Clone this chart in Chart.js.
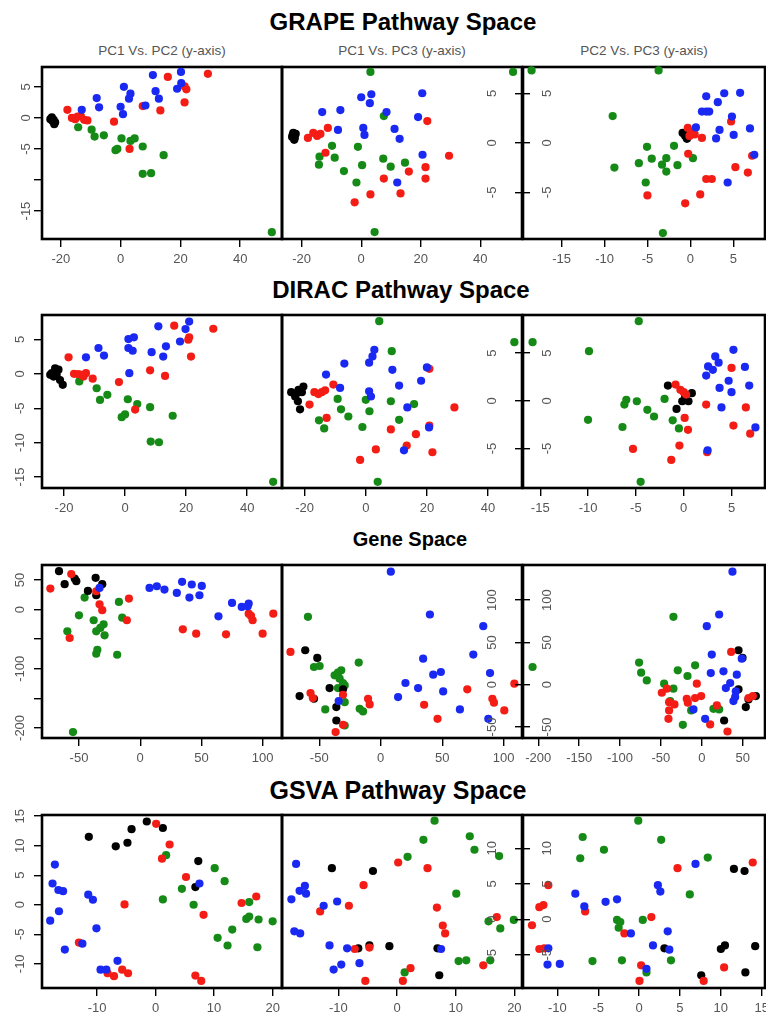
<!DOCTYPE html>
<html>
<head>
<meta charset="utf-8">
<script src="https://cdn.jsdelivr.net/npm/chart.js@4/dist/chart.umd.min.js"></script>
<style>
  body { margin: 0; background: #fff; width: 766px; height: 1017px; overflow: hidden; position: relative;
         font-family: "Liberation Sans", Arial, sans-serif; }
  canvas { position: absolute; }
  .title { position: absolute; transform: translateX(-50%); white-space: nowrap; font-weight: bold; font-size: 24px; color: #000; }
  .sub { position: absolute; transform: translateX(-50%); white-space: nowrap; font-size: 13.5px; color: #555; }
</style>
</head>
<body>
<div class="title" style="left:403px;top:8px">GRAPE Pathway Space</div>
<div class="title" style="left:401px;top:276px">DIRAC Pathway Space</div>
<div class="title" style="left:410px;top:528px;font-size:20px">Gene Space</div>
<div class="title" style="left:398px;top:776px;font-size:25px">GSVA Pathway Space</div>
<div class="sub" style="left:162px;top:43px">PC1 Vs. PC2 (y-axis)</div>
<div class="sub" style="left:402px;top:43px">PC1 Vs. PC3 (y-axis)</div>
<div class="sub" style="left:644px;top:43px">PC2 Vs. PC3 (y-axis)</div>

<script>
// points: [x, y, group]   k = black, r = red, b = blue, g = green

// ---- GRAPE pathway space ----
const grapePC1PC2 = [
  [-23.5,-0.2,'k'],[-22.8,-0.5,'k'],[-22.2,-1.0,'k'],[-23.0,0.1,'k'],[-22.4,-0.3,'k'],[-21.9,-0.7,'k'],
  [-17.8,1.3,'r'],[-16.3,0,'r'],[-14.4,0.2,'r'],[-13.3,0.3,'r'],[-15.2,-0.2,'r'],[-12.2,-0.3,'r'],[-11.1,-0.4,'r'],[-2.2,-0.6,'r'],
  [7.4,1.9,'r'],[13.3,1.2,'r'],[3.0,-5.0,'r'],[15.8,6.6,'r'],[29.2,7.1,'r'],[21.4,5.1,'r'],[22.0,4.6,'r'],[21.4,2.5,'r'],
  [-13.0,1.3,'b'],[-8.0,3.2,'b'],[-7.2,1.7,'b'],[1.1,5.0,'b'],[3.3,3.9,'b'],[2.8,3.1,'b'],[0,1.8,'b'],[0.8,0.6,'b'],
  [8.3,2.0,'b'],[10.8,6.9,'b'],[11.7,4.3,'b'],[12.8,3.1,'b'],[20.2,7.4,'b'],[18.9,4.7,'b'],[20.3,5.6,'b'],
  [-14.2,-1.5,'g'],[-9.7,-1.9,'g'],[-8.7,-3.0,'g'],[-5.6,-2.8,'g'],[-1.7,-5.2,'g'],[-1.1,-5.0,'g'],[0.3,-3.3,'g'],[3.3,-3.7,'g'],
  [4.7,-3.3,'g'],[7.4,-4.6,'g'],[14.4,-6.0,'g'],[7.4,-9.0,'g'],[10.2,-8.9,'g'],[50.6,-18.4,'g']
];
const grapePC1PC3 = [
  [-23,0.8,'k'],[-22.3,0.5,'k'],[-22.8,1.0,'k'],[-22,0.9,'k'],[-23.2,0.6,'k'],[-22.5,0.3,'k'],
  [-17.9,0.5,'r'],[-16.1,1.0,'r'],[-14.8,0.7,'r'],[-13.7,0.9,'r'],[-11.2,1.5,'r'],[-12.0,-1.0,'r'],[-2.2,-6.0,'r'],[3.1,-5.2,'r'],
  [7.6,-3.6,'r'],[13.2,-5.1,'r'],[16.0,-2.9,'r'],[21.6,-2.45,'r'],[21.6,-3.6,'r'],[22.2,2.2,'r'],[29.5,-1.3,'r'],
  [-13.1,3.1,'b'],[-7.0,3.3,'b'],[-7.8,1.3,'b'],[0,4.6,'b'],[3.4,4.9,'b'],[2.9,4.0,'b'],[0.7,1.5,'b'],[1.1,0.8,'b'],
  [8.5,3.1,'b'],[11.2,1.4,'b'],[12.9,0.4,'b'],[12.1,-4.0,'b'],[20.5,5.0,'b'],[19.1,2.6,'b'],[20.6,-1.2,'b'],
  [3.1,7.15,'g'],[51,7.15,'g'],[-9.8,-0.3,'g'],[-14.0,-1.4,'g'],[-14.2,-2.2,'g'],[-8.9,-1.5,'g'],[-5.8,-2.85,'g'],[-1.1,-0.4,'g'],
  [0.3,-2.25,'g'],[-1.6,-4.0,'g'],[7.6,2.7,'g'],[7.4,-1.6,'g'],[9.9,-2.4,'g'],[14.7,-2.0,'g'],[4.5,-9.0,'g']
];
const grapePC2PC3 = [
  [-18.5,7.3,'g'],[-3.7,7.3,'g'],[-9.05,2.7,'g'],[-8.85,-2.5,'g'],[-5.05,-0.4,'g'],[-6.0,-2.05,'g'],[-4.5,-1.6,'g'],[-2.8,-1.55,'g'],
  [-3.3,-2.2,'g'],[-2.8,-2.9,'g'],[-1.9,-0.3,'g'],[-1.5,-2.25,'g'],[-5.2,-4.0,'g'],[0.3,-1.55,'g'],[-3.2,-9.1,'g'],
  [-0.9,1.0,'k'],[-0.6,0.7,'k'],[-0.4,0.4,'k'],[-0.7,0.9,'k'],[-0.3,0.6,'k'],
  [-0.3,1.5,'r'],[0.1,1.1,'r'],[0.5,0.85,'r'],[-0.1,0.7,'r'],[1.35,0.5,'r'],[-0.25,-1.1,'r'],[-5.0,-5.3,'r'],[-0.6,-6.1,'r'],
  [1.15,-5.2,'r'],[1.85,-3.65,'r'],[2.5,-3.65,'r'],[4.75,2.15,'r'],[5.25,-2.45,'r'],[6.7,-3.0,'r'],[7.2,-1.3,'r'],
  [0.65,1.55,'b'],[1.85,4.7,'b'],[1.35,3.15,'b'],[1.85,3.15,'b'],[2.2,3.15,'b'],[3.2,4.1,'b'],[3.95,5.0,'b'],[5.8,5.05,'b'],
  [3.4,1.3,'b'],[3.0,0.45,'b'],[4.85,2.65,'b'],[5.05,0.8,'b'],[6.95,1.45,'b'],[7.45,-1.2,'b'],[4.35,-4.0,'b']
];

// ---- DIRAC pathway space ----
const diracPC1PC2 = [
  [-24,0.1,'k'],[-22.9,0.8,'k'],[-21.8,0.6,'k'],[-23.4,-0.4,'k'],[-21.3,-0.9,'k'],[-20.4,-1.6,'k'],[-22.4,-0.15,'k'],[-24.5,-0.15,'k'],
  [-18.5,2.4,'r'],[-16.7,0,'r'],[-15.3,-0.05,'r'],[-14.2,-0.15,'r'],[-12.8,0.1,'r'],[-13.6,-0.4,'r'],[-10.6,-0.7,'r'],[-2.0,-1.2,'r'],
  [8.2,0.5,'r'],[13.1,-0.3,'r'],[3.3,-5.2,'r'],[16.1,7.0,'r'],[28.9,6.55,'r'],[21.0,5.3,'r'],[20.7,4.95,'r'],[21.6,2.5,'r'],
  [-12.8,2.4,'b'],[-8.7,3.75,'b'],[-6.9,2.65,'b'],[1.1,5.05,'b'],[2.9,5.3,'b'],[1.1,3.75,'b'],[2.5,3.35,'b'],[1.4,0.1,'b'],
  [8.7,3.15,'b'],[10.9,6.9,'b'],[13.4,4.0,'b'],[12.5,2.5,'b'],[18.0,4.7,'b'],[19.8,6.5,'b'],[21.0,7.6,'b'],
  [-15.0,-1.1,'g'],[-9.3,-2.1,'g'],[-8.2,-3.8,'g'],[-5.8,-3.05,'g'],[0.9,-3.7,'g'],[4.0,-4.4,'g'],[-1.1,-6.3,'g'],[0,-5.9,'g'],
  [8.2,-4.85,'g'],[15.6,-6.1,'g'],[8.4,-9.85,'g'],[11.1,-9.95,'g'],[48.5,-15.7,'g']
];
const diracPC1PC3 = [
  [-24.4,0.9,'k'],[-22.6,0.8,'k'],[-20.4,1.5,'k'],[-20.9,0.9,'k'],[-23.1,0.45,'k'],[-22.2,-0.05,'k'],[-21.5,-0.9,'k'],[-22,1.15,'k'],
  [-18.4,-0.4,'r'],[-16.8,0.9,'r'],[-15.5,0.7,'r'],[-14.4,0.9,'r'],[-13.3,1.1,'r'],[-10.6,1.7,'r'],[-12.8,-1.8,'r'],[-1.85,-6.2,'r'],
  [3.3,-5.1,'r'],[8.2,-3.0,'r'],[13.4,-4.7,'r'],[16.4,-3.5,'r'],[20.8,3.35,'r'],[20.8,-2.6,'r'],[21.8,-5.4,'r'],[29.0,-0.7,'r'],
  [-13.0,2.75,'b'],[-7.0,3.9,'b'],[-8.4,1.35,'b'],[1.1,4.0,'b'],[2.2,4.65,'b'],[2.8,5.35,'b'],[1.1,1.0,'b'],[1.7,0.45,'b'],
  [8.7,3.25,'b'],[10.9,1.6,'b'],[13.6,-0.7,'b'],[18.1,2.1,'b'],[20.0,3.5,'b'],[20.7,-2.8,'b'],[12.5,-5.2,'b'],
  [4.4,8.35,'g'],[48.6,6.15,'g'],[8.5,5.2,'g'],[-9.2,0.2,'g'],[-8.1,-0.9,'g'],[-5.7,-1.65,'g'],[-15.3,-2.05,'g'],[-13.6,-2.9,'g'],
  [-1.1,-2.75,'g'],[0,0.1,'g'],[1.2,-1.1,'g'],[8.2,-0.05,'g'],[10.9,-2.0,'g'],[15.8,-0.35,'g'],[3.9,-8.5,'g']
];
const diracPC2PC3 = [
  [-15.8,6.15,'g'],[-4.7,8.35,'g'],[-9.9,5.2,'g'],[-10.0,-2.0,'g'],[-6.0,0.1,'g'],[-6.2,-0.4,'g'],[-4.9,-0.05,'g'],[-3.8,-0.95,'g'],
  [-3.1,-1.65,'g'],[-2.0,0.2,'g'],[-1.15,-2.05,'g'],[-0.5,-2.9,'g'],[-6.4,-2.75,'g'],[-4.5,-8.5,'g'],
  [-1.65,1.6,'k'],[0.85,0.8,'k'],[0.5,-0.05,'k'],[-0.15,-0.05,'k'],[-0.75,-0.85,'k'],[0.15,0.45,'k'],
  [-0.85,1.7,'r'],[-0.35,1.15,'r'],[0,0.9,'r'],[0.25,0.65,'r'],[0.1,-1.8,'r'],[0.45,-3.05,'r'],[-0.45,-4.7,'r'],[-1.3,-6.2,'r'],
  [-5.3,-5.05,'r'],[2.35,-0.4,'r'],[2.45,-5.4,'r'],[5.0,3.45,'r'],[5.2,-2.6,'r'],[6.5,-0.7,'r'],[6.95,-3.45,'r'],
  [2.55,3.6,'b'],[2.35,2.65,'b'],[3.05,3.25,'b'],[3.3,4.65,'b'],[3.65,4.0,'b'],[3.75,1.35,'b'],[3.95,-0.7,'b'],[4.7,2.1,'b'],
  [5.0,0.9,'b'],[5.2,5.35,'b'],[6.4,3.55,'b'],[6.85,1.6,'b'],[7.5,-2.8,'b'],[2.5,-5.2,'b']
];

// ---- Gene space ----
const genePC1PC2 = [
  [-66.3,65,'k'],[-61.7,43,'k'],[-52.2,48,'k'],[-53.5,52.5,'k'],[-36.4,53.7,'k'],[-31,43,'k'],[-42.7,31.6,'k'],[-35.9,24.3,'k'],
  [-73.4,35.6,'r'],[-56.3,60,'r'],[-35.9,31,'r'],[-33.2,9,'r'],[-31,-1,'r'],[-9.2,18.6,'r'],[-10.9,-18,'r'],[-57.6,-48,'r'],
  [34.8,-33.3,'r'],[45.7,-40.7,'r'],[70.1,-41.8,'r'],[88.6,-6.8,'r'],[90.5,-10.7,'r'],[91.8,-18,'r'],[100,-40.7,'r'],[108.7,-6.8,'r'],
  [-33.2,36.7,'b'],[7.6,36.7,'b'],[13.6,39.5,'b'],[19.8,33.9,'b'],[29.9,28.2,'b'],[34.2,46.9,'b'],[40.2,20.3,'b'],[42.1,42.4,'b'],
  [48.4,24.3,'b'],[50.3,40.1,'b'],[63.9,-11.3,'b'],[75,11.3,'b'],[82.9,4.5,'b'],[87.8,5.6,'b'],[88.6,10.2,'b'],
  [-45.4,20.3,'g'],[-50,-9.6,'g'],[-59.5,-36.7,'g'],[-38,-18,'g'],[-35.9,-36.7,'g'],[-32.6,-31,'g'],[-29.9,-24.9,'g'],[-29.1,-43.5,'g'],
  [-35,-67.8,'g'],[-35.9,-74.6,'g'],[-17.4,13,'g'],[-14.7,-13.6,'g'],[-18.8,-76.3,'g'],[-54.9,-207,'g']
];
const genePC1PC3 = [
  [8.2,133.6,'b'],[40,83,'b'],[83.4,69.2,'b'],[34.5,30.8,'b'],[75.3,35.6,'b'],[42.7,11.9,'b'],[48.9,15,'b'],[20.1,2,'b'],
  [30.4,-4,'b'],[50.8,-7.9,'b'],[14.1,-14.6,'b'],[64.4,-29.2,'b'],[88.9,13.8,'b'],[87.5,-40.3,'b'],[-34.2,-19.4,'b'],
  [-73.4,38.7,'r'],[-57.1,-9.9,'r'],[-55.2,-15.8,'r'],[-30.7,-11.9,'r'],[-10.3,-16.6,'r'],[-9,-23.3,'r'],[-36.7,-56,'r'],[-30.7,-47.4,'r'],
  [35.3,-23.7,'r'],[46.2,-40.3,'r'],[70.4,-5.5,'r'],[90.8,-16.6,'r'],[92.1,-21.3,'r'],[100.5,-30.4,'r'],[108.7,1.2,'r'],
  [-61.4,40.7,'k'],[-51.6,31.6,'k'],[-66,-13.4,'k'],[-54.3,-16.6,'k'],[-41.6,-4,'k'],[-36.1,-26.5,'k'],[-36.1,-42.3,'k'],[-30.7,-5.5,'k'],
  [-59.2,80.2,'g'],[-54.3,20.9,'g'],[-49.7,22.1,'g'],[-17.9,26.1,'g'],[-37.5,11.1,'g'],[-34.8,14.2,'g'],[-32.1,17,'g'],[-33.4,7.1,'g'],
  [-30.7,2,'g'],[-29.3,-0.8,'g'],[-34.8,-4,'g'],[-29.3,-20.6,'g'],[-45.1,-29.2,'g'],[-17.1,-28.5,'g'],[-14.4,-31.6,'g'],[-29.3,-48.2,'g']
];
const genePC2PC3 = [
  [-207,20.9,'g'],[-34.7,80.2,'g'],[-76.7,26.1,'g'],[-74.2,14.2,'g'],[-67.3,5.1,'g'],[-46.1,1.2,'g'],[-34.7,-4.7,'g'],[-29.4,17,'g'],
  [-17.5,10.3,'g'],[-8.2,22.9,'g'],[-38.7,-19.4,'g'],[-13,-30.4,'g'],[-23.2,-47.4,'g'],[14.3,-28.5,'g'],[21.2,-29.2,'g'],
  [-48.9,-9.5,'r'],[-42.8,-4.7,'r'],[-40,-20.6,'r'],[-33.4,-23.3,'r'],[-40,-30.4,'r'],[-40.8,-40.3,'r'],[-18.4,-16.6,'r'],[-17.1,-21.3,'r'],
  [-8.2,-15.8,'r'],[-0.8,-13.4,'r'],[-6.1,1.2,'r'],[18.4,-24.5,'r'],[10.2,-47,'r'],[31.4,-55.3,'r'],[35.9,38.7,'r'],[62.4,-13.4,'r'],[57.1,-15.8,'r'],
  [37.5,133.6,'b'],[21.2,83,'b'],[6.1,69.2,'b'],[12.2,35.6,'b'],[48.9,30.8,'b'],[11,13.8,'b'],[26.5,15.8,'b'],[42.8,11.9,'b'],
  [34.7,2,'b'],[29.4,-4,'b'],[41.6,-7.9,'b'],[38.7,-19.4,'b'],[-10.2,-29.2,'b'],[4.1,-40.3,'b'],[40.8,-14.6,'b'],
  [44.9,40.7,'k'],[49.8,31.6,'k'],[44.9,-5.5,'k'],[57.1,-17.4,'k'],[66.1,-13.4,'k'],[53.8,-26.5,'k'],[27.3,-42.3,'k']
];

// ---- GSVA pathway space ----
const gsvaPC1PC2 = [
  [-11.4,11.5,'k'],[-6.8,9.9,'k'],[-4.8,10.5,'k'],[-4.1,12.8,'k'],[-1.5,14.1,'k'],[1.25,13.0,'k'],[7.3,7.4,'k'],[6.8,3.0,'k'],
  [0.1,13.7,'r'],[2.4,10.2,'r'],[1.1,7.8,'r'],[5.2,4.7,'r'],[-5.3,0.05,'r'],[8.2,-1.7,'r'],[14.7,0.3,'r'],[17.2,1.4,'r'],
  [-13.1,-6.4,'r'],[-8.2,-11.6,'r'],[-7.1,-12.1,'r'],[-5.7,-11.0,'r'],[-4.7,-11.6,'r'],[6.8,-12.0,'r'],[7.8,-12.9,'r'],
  [-17.2,6.8,'b'],[-17.6,3.6,'b'],[-16.6,2.5,'b'],[-15.8,2.3,'b'],[-16.5,-1.1,'b'],[-18,-2.7,'b'],[-11.5,1.7,'b'],[-10.7,0.85,'b'],
  [-10.1,-4.0,'b'],[-15.5,-7.6,'b'],[-12.5,-6.6,'b'],[-9.4,-11.0,'b'],[-8.4,-11.0,'b'],[-6.5,-9.5,'b'],[7.5,3.6,'b'],
  [1.8,8.4,'g'],[4.5,2.7,'g'],[1.25,0.9,'g'],[6.5,0,'g'],[10.1,6.2,'g'],[11.8,4.0,'g'],[10.6,-5.6,'g'],[13.1,-4.2,'g'],
  [12.3,-6.9,'g'],[16,0.45,'g'],[15.5,-2.4,'g'],[16,-2.0,'g'],[17.4,-7.2,'g'],[17.6,-2.5,'g'],[20,-2.8,'g']
];
const gsvaPC1PC3 = [
  [-11.1,7.2,'k'],[-4.1,6.8,'k'],[-6.6,-4.1,'k'],[-4.7,-3.7,'k'],[-1.3,-3.8,'k'],[6.9,-4.1,'k'],[7.2,-7.9,'k'],
  [0.2,8.0,'r'],[5.2,7.2,'r'],[-5.7,4.8,'r'],[-8.2,1.9,'r'],[-13.1,1.1,'r'],[-7.2,-4.2,'r'],[-4.7,-4.0,'r'],[6.8,1.65,'r'],
  [7.8,-0.9,'r'],[8.2,-2.0,'r'],[-5.4,-8.7,'r'],[1.0,-8.7,'r'],[2.3,-6.9,'r'],[14.7,-6.5,'r'],[17.0,0.3,'r'],
  [-17.2,7.8,'b'],[-15.7,4.7,'b'],[-16.6,4.0,'b'],[-15.5,3.6,'b'],[-18,2.8,'b'],[-17.5,-1.7,'b'],[-16.5,-2.0,'b'],[-12.5,1.9,'b'],
  [-10.2,2.5,'b'],[-11.5,-3.7,'b'],[-8.5,-4.1,'b'],[-6.4,-6.2,'b'],[-9.5,-6.4,'b'],[-10.8,-7.1,'b'],[7.5,-4.2,'b'],
  [6.4,13.9,'g'],[4.5,11.2,'g'],[1.8,8.8,'g'],[12.4,11.7,'g'],[13.2,9.8,'g'],[10.1,3.6,'g'],[15.6,-0.3,'g'],[17.6,-1.3,'g'],
  [19.9,-0.1,'g'],[10.5,-5.9,'g'],[11.8,-5.8,'g'],[15.9,-5.8,'g'],[1.3,-7.5,'g'],[17.4,8.9,'g']
];
const gsvaPC2PC3 = [
  [-0.1,13.9,'g'],[-6.9,11.6,'g'],[-7.2,8.6,'g'],[-4.3,9.8,'g'],[2.7,11.2,'g'],[8.4,8.7,'g'],[6.2,3.5,'g'],[-2.7,-0.1,'g'],
  [-2.3,-0.4,'g'],[-2.5,-1.2,'g'],[0.45,-0.1,'g'],[-5.7,-5.9,'g'],[-2.1,-5.8,'g'],[3.9,-5.8,'g'],[0.9,-7.5,'g'],
  [-11.1,4.8,'r'],[-12.2,1.7,'r'],[-11.7,2.0,'r'],[-13.1,-0.85,'r'],[-6.6,1.1,'r'],[-12.2,-4.2,'r'],[-11.6,-4.1,'r'],[-1.8,-2.0,'r'],
  [1.5,0.3,'r'],[4.7,7.2,'r'],[0.25,-6.5,'r'],[0.05,-8.7,'r'],[7.9,-8.7,'r'],[10.4,-6.8,'r'],[13.9,8.0,'r'],
  [-7.8,3.6,'b'],[-6.7,1.8,'b'],[-4.1,2.45,'b'],[-2.7,2.8,'b'],[2.3,4.8,'b'],[2.6,3.9,'b'],[6.9,7.8,'b'],[-1.0,-2.0,'b'],
  [3.5,-1.7,'b'],[1.7,-3.7,'b'],[3.7,-4.3,'b'],[-11.1,-4.1,'b'],[-11.2,-6.4,'b'],[-9.7,-6.3,'b'],[0.9,-7.0,'b'],
  [3.1,-4.1,'k'],[10,-4.2,'k'],[10.5,-3.7,'k'],[14.2,-3.8,'k'],[11.6,7.1,'k'],[12.9,6.8,'k'],[7.6,-7.9,'k'],[13,-7.5,'k']
];

// tick values for each axis
const grapeTicksPC1 = [-20, 0, 20, 40];
const grapeTicksPC2 = [-15, -10, -5, 0, 5];
const grapeTicksPC3 = [-5, 0, 5];
const diracTicksPC1 = [-20, 0, 20, 40];
const diracTicksPC2 = [-15, -10, -5, 0, 5];
const diracTicksPC3 = [-5, 0, 5];
const geneTicksPC1 = [-50, 0, 50, 100];
const geneTicksPC2 = [-200, -150, -100, -50, 0, 50];
const geneTicksPC3 = [-50, 0, 50, 100];
const gsvaTicksPC1 = [-10, 0, 10, 20];
const gsvaTicksPC2 = [-10, -5, 0, 5, 10, 15];
const gsvaTicksPC3 = [-5, 0, 5, 10];

const COLORS = { k: '#000000', r: '#f41d16', b: '#1a29f2', g: '#168a17' };
const DRAW_ORDER = ['b', 'r', 'k', 'g']; // first one ends up on top
const FONT = '"Liberation Sans", Arial, sans-serif';

// panel frames on the page
const colBox = [[42, 282], [282, 522], [523, 765]];
const rowBox = [[67, 239], [315, 488], [565, 738], [815, 988]];
const yLabelCol = [[26, 492.5, 547], [20.5, 492.5, 547], [20.5, 492.5, 547], [20.5, 492.5, 547]];

const panels = [
  { r: 0, c: 0, pts: grapePC1PC2, x: [-26.3, 54], y: [-19.5, 8.2], xt: grapeTicksPC1, yt: grapeTicksPC2, hide: [-10] },
  { r: 0, c: 1, pts: grapePC1PC3, x: [-26.6, 54], y: [-9.7, 7.65], xt: grapeTicksPC1, yt: grapeTicksPC3, hide: [] },
  { r: 0, c: 2, pts: grapePC2PC3, x: [-19.5, 8.7], y: [-9.7, 7.65], xt: grapeTicksPC2, yt: grapeTicksPC3, hide: [] },
  { r: 1, c: 0, pts: diracPC1PC2, x: [-27.2, 51.4], y: [-16.6, 8.55], xt: diracTicksPC1, yt: diracTicksPC2, hide: [] },
  { r: 1, c: 1, pts: diracPC1PC3, x: [-27.4, 51.1], y: [-9.15, 9.0], xt: diracTicksPC1, yt: diracTicksPC3, hide: [] },
  { r: 1, c: 2, pts: diracPC2PC3, x: [-16.8, 8.5], y: [-9.15, 9.0], xt: diracTicksPC2, yt: diracTicksPC3, hide: [] },
  { r: 2, c: 0, pts: genePC1PC2, x: [-80.2, 115.8], y: [-217, 75.4], xt: geneTicksPC1, yt: geneTicksPC2, hide: [-50, -150] },
  { r: 2, c: 1, pts: genePC1PC3, x: [-80.3, 114.9], y: [-63, 141.5], xt: geneTicksPC1, yt: geneTicksPC3, hide: [] },
  { r: 2, c: 2, pts: genePC2PC3, x: [-218.7, 77.3], y: [-63, 141.5], xt: geneTicksPC2, yt: geneTicksPC3, hide: [] },
  { r: 3, c: 0, pts: gsvaPC1PC2, x: [-19.4, 21.6], y: [-14.1, 15.2], xt: gsvaTicksPC1, yt: gsvaTicksPC2, hide: [] },
  { r: 3, c: 1, pts: gsvaPC1PC3, x: [-19.6, 21.3], y: [-9.7, 14.7], xt: gsvaTicksPC1, yt: gsvaTicksPC3, hide: [] },
  { r: 3, c: 2, pts: gsvaPC2PC3, x: [-14.2, 15.4], y: [-9.7, 14.7], xt: gsvaTicksPC2, yt: gsvaTicksPC3, hide: [] }
];

function makePanel(p) {
  const [x0, x1] = colBox[p.c];
  const [y0, y1] = rowBox[p.r];
  const mL = p.c === 0 ? 42 : 10, mR = 10, mT = 10, mB = 34;
  const yW = p.c === 0 ? 42 : 10;
  const cv = document.createElement('canvas');
  cv.width = x1 - x0 + mL + mR;
  cv.height = y1 - y0 + mT + mB;
  cv.style.left = (x0 - mL) + 'px';
  cv.style.top = (y0 - mT) + 'px';
  document.body.appendChild(cv);
  const labelX = yLabelCol[p.r][p.c] - (x0 - mL);

  // box round the plot region, drawn under the points
  const frame = {
    id: 'frame',
    beforeDatasetsDraw(chart) {
      const a = chart.chartArea, ctx = chart.ctx;
      ctx.save();
      ctx.lineWidth = 2.6;
      ctx.strokeStyle = '#000';
      ctx.strokeRect(a.left, a.top, a.right - a.left, a.bottom - a.top);
      ctx.restore();
    }
  };
  // R style y labels: rotated, reading upwards
  const yLabels = {
    id: 'yLabels',
    afterDraw(chart) {
      const s = chart.scales.y, ctx = chart.ctx;
      ctx.save();
      ctx.font = '13px ' + FONT;
      ctx.fillStyle = '#555';
      ctx.textAlign = 'center';
      ctx.textBaseline = 'middle';
      s.ticks.forEach(t => {
        if (p.hide.includes(t.value)) return;
        ctx.save();
        ctx.translate(labelX, s.getPixelForValue(t.value));
        ctx.rotate(-Math.PI / 2);
        ctx.fillText(String(t.value), 0, 0);
        ctx.restore();
      });
      ctx.restore();
    }
  };

  const tickGrid = { drawOnChartArea: false, drawTicks: true, tickLength: 8, color: '#000', lineWidth: 1.4 };

  new Chart(cv, {
    type: 'scatter',
    data: {
      datasets: DRAW_ORDER.map(g => ({
        data: p.pts.filter(q => q[2] === g).map(q => ({ x: q[0], y: q[1] })),
        backgroundColor: COLORS[g],
        pointBackgroundColor: COLORS[g],
        pointRadius: 4.1,
        pointBorderWidth: 0,
        borderWidth: 0,
        clip: false
      }))
    },
    options: {
      responsive: false,
      animation: false,
      events: [],
      layout: { padding: { left: p.c === 1 ? 10 : 0, right: p.c === 1 ? 0 : 10, top: mT, bottom: 0 } },
      plugins: { legend: { display: false }, tooltip: { enabled: false } },
      scales: {
        x: {
          type: 'linear', bounds: 'data', min: p.x[0], max: p.x[1],
          afterBuildTicks: s => { s.ticks = p.xt.map(v => ({ value: v })); },
          afterFit: s => { s.height = mB; },
          grid: tickGrid,
          border: { display: false },
          ticks: { color: '#555', font: { size: 13, family: FONT }, padding: 5, autoSkip: false, maxRotation: 0 }
        },
        y: {
          type: 'linear', bounds: 'data', position: p.c === 1 ? 'right' : 'left', min: p.y[0], max: p.y[1],
          afterBuildTicks: s => { s.ticks = p.yt.map(v => ({ value: v })); },
          afterFit: s => { s.width = yW; },
          grid: tickGrid,
          border: { display: false },
          ticks: { display: false }
        }
      }
    },
    plugins: [frame, yLabels]
  });
}

panels.forEach(makePanel);
</script>
</body>
</html>
